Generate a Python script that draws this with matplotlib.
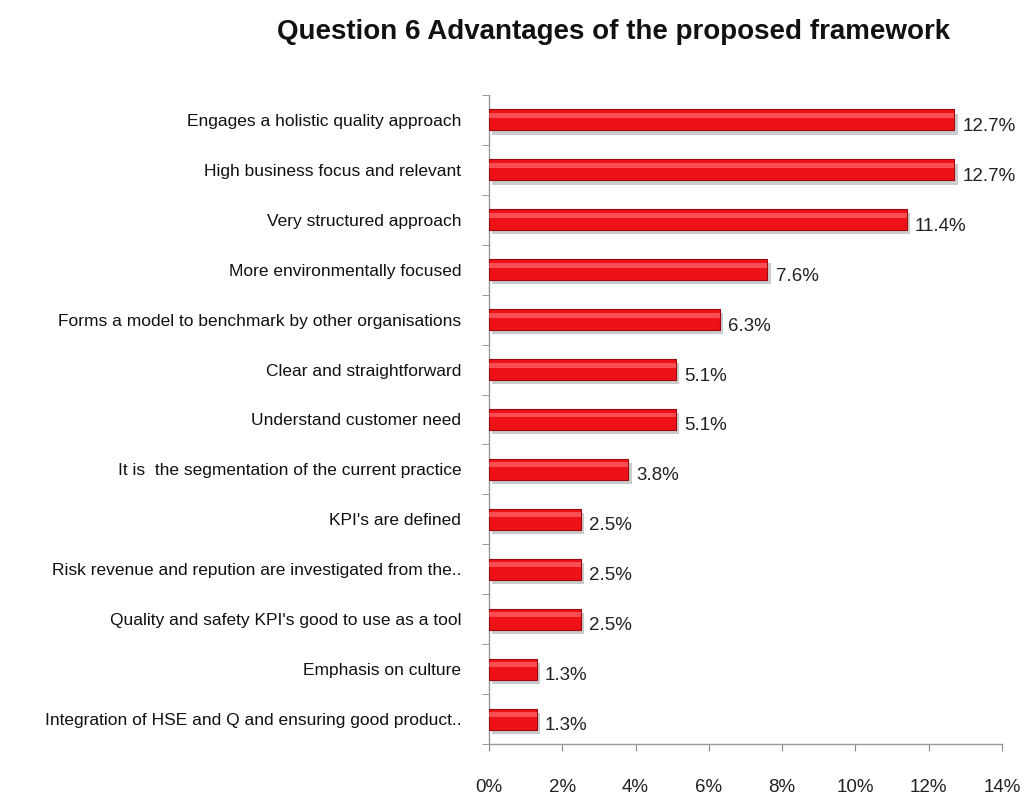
import matplotlib
matplotlib.use("Agg")
from matplotlib import pyplot as plt
from matplotlib import patheffects as pe
from matplotlib.ticker import FuncFormatter, FixedLocator
import numpy as np

# survey answers, top to bottom as listed
answers = [
    "Engages a holistic quality approach",
    "High business focus and relevant",
    "Very structured approach",
    "More environmentally focused",
    "Forms a model to benchmark by other organisations",
    "Clear and straightforward",
    "Understand customer need",
    "It is  the segmentation of the current practice",
    "KPI's are defined",
    "Risk revenue and repution are investigated from the..",
    "Quality and safety KPI's good to use as a tool",
    "Emphasis on culture",
    "Integration of HSE and Q and ensuring good product..",
]
shares = [12.7, 12.7, 11.4, 7.6, 6.3, 5.1, 5.1, 3.8, 2.5, 2.5, 2.5, 1.3, 1.3]
xticks = [0, 2, 4, 6, 8, 10, 12, 14]

plt.rcParams['font.family'] = ['Liberation Sans', 'DejaVu Sans']

fig = plt.figure(figsize=(10.23, 7.96), dpi=100)
ax = fig.add_axes([0.478, 0.0653, 0.5015, 0.8154])

pos = np.arange(len(answers))
bars = ax.barh(pos, shares, height=0.42, color="#ee1118", edgecolor="#9a0a0e",
               linewidth=0.8, zorder=3)
for b in bars:
    b.set_path_effects([pe.SimplePatchShadow(offset=(2.5, -3), shadow_rgbFace="#999999",
                                             alpha=0.5), pe.Normal()])

# soft highlight along the top of each bar
ax.barh(pos - 0.09, shares, height=0.1, color="#ff6a6f", alpha=0.7, linewidth=0, zorder=4)

for p, v in zip(pos, shares):
    ax.text(v + 0.22, p + 0.13, f"{v:.1f}%", va="center", ha="left",
            fontsize=13.5, color="#222222")

ax.set_xlim(0, 14)
ax.set_ylim(len(answers) - 0.5, -0.5)
ax.set_yticks(pos)
ax.set_yticklabels(answers, fontsize=12.5, color="#111111")
ax.yaxis.set_minor_locator(FixedLocator(np.arange(-0.5, len(answers), 1)))
ax.tick_params(axis="y", which="major", length=0, pad=20)
ax.tick_params(axis="y", which="minor", length=5, color="#888888", direction="out")

ax.set_xticks(xticks)
ax.xaxis.set_major_formatter(FuncFormatter(lambda v, _: f"{v:.0f}%"))
ax.tick_params(axis="x", length=5, color="#888888", direction="out", pad=20,
               labelsize=13.5, labelcolor="#222222")

for side in ("top", "right"):
    ax.spines[side].set_visible(False)
for side in ("left", "bottom"):
    ax.spines[side].set_color("#999999")
    ax.spines[side].set_linewidth(1)

fig.text(0.60, 0.96, "Question 6 Advantages of the proposed framework",
         ha="center", va="center", fontsize=20, fontweight="bold", color="#111111")

fig.savefig("out.png", dpi=100)
